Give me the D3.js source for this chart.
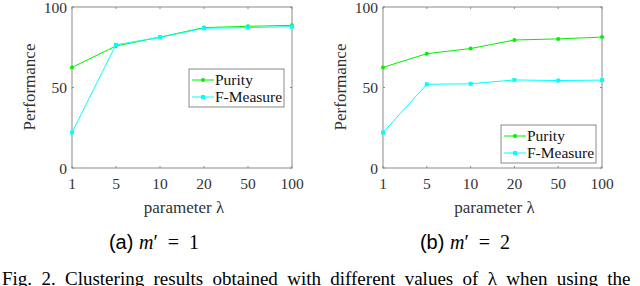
<!DOCTYPE html>
<html>
<head>
<meta charset="utf-8">
<script src="https://cdn.jsdelivr.net/npm/d3@7"></script>
<style>
  body { margin: 0; background: #fff; }
  svg { display: block; }
</style>
</head>
<body>
<div class="graph"></div>
<script>
// chart data
const lambdas = ['1', '5', '10', '20', '50', '100'];
const yTicks = [0, 50, 100];
const purityA = [62.5, 75.8, 81.3, 87.2, 88, 88.6];
const fmeasureA = [22, 76.5, 81.2, 86.8, 87.2, 87.8];
const purityB = [62.5, 71, 74.2, 79.5, 80.2, 81.3];
const fmeasureB = [22, 52, 52.3, 54.7, 54.3, 54.6];
const seriesNames = ['Purity', 'F-Measure'];
const seriesColors = ['#00f000', '#00ffff'];

const serif = "'Liberation Serif', 'Times New Roman', Times, 'DejaVu Serif', serif";
const sans = "'Liberation Sans', Arial, Helvetica, 'DejaVu Sans', sans-serif";

const width = 640;
const height = 286;

const svg = d3.select('.graph')
  .append('svg')
  .attr('width', width)
  .attr('height', height)
  .attr('font-family', serif);

function drawPanel(opts) {
  const x = d3.scalePoint().domain(lambdas).range([opts.left, opts.right]);
  const y = d3.scaleLinear().domain([0, 100]).range([168, 7]);
  const g = svg.append('g');

  // box
  g.append('rect')
    .attr('x', opts.left).attr('y', 7)
    .attr('width', opts.right - opts.left).attr('height', 161)
    .attr('fill', 'none').attr('stroke', '#8a8a8a').attr('stroke-width', 1);

  // x ticks (inward, top and bottom)
  lambdas.forEach(d => {
    g.append('line').attr('x1', x(d)).attr('x2', x(d)).attr('y1', 168).attr('y2', 166)
      .attr('stroke', '#8a8a8a');
    g.append('line').attr('x1', x(d)).attr('x2', x(d)).attr('y1', 7).attr('y2', 9)
      .attr('stroke', '#8a8a8a');
  });
  g.selectAll('.xl').data(lambdas).enter().append('text')
    .attr('x', d => x(d)).attr('y', 189)
    .attr('text-anchor', 'middle')
    .attr('font-size', '15.5px').attr('fill', '#333')
    .text(d => d);

  // y ticks
  yTicks.forEach(v => {
    g.append('line').attr('x1', opts.left).attr('x2', opts.left + 2).attr('y1', y(v)).attr('y2', y(v))
      .attr('stroke', '#8a8a8a');
    g.append('line').attr('x1', opts.right).attr('x2', opts.right - 2).attr('y1', y(v)).attr('y2', y(v))
      .attr('stroke', '#8a8a8a');
  });
  g.selectAll('.yl').data(yTicks).enter().append('text')
    .attr('x', opts.left - 5).attr('y', d => y(d) + 5.5)
    .attr('text-anchor', 'end')
    .attr('font-size', '15.5px').attr('fill', '#333')
    .text(d => d);

  // axis titles
  g.append('text')
    .attr('transform', `translate(${opts.left - 37},87) rotate(-90)`)
    .attr('text-anchor', 'middle')
    .attr('font-size', '17px').attr('fill', '#333')
    .text('Performance');
  g.append('text')
    .attr('x', (opts.left + opts.right) / 2 + 2).attr('y', 213)
    .attr('text-anchor', 'middle')
    .attr('font-size', '17px').attr('fill', '#333')
    .text('parameter λ');

  // lines
  const line = d3.line().x((d, i) => x(lambdas[i])).y(d => y(d));
  [opts.purity, opts.fmeasure].forEach((vals, s) => {
    g.append('path')
      .datum(vals)
      .attr('d', line)
      .attr('fill', 'none')
      .attr('stroke', seriesColors[s])
      .attr('stroke-width', 1);
    if (s === 0) {
      g.selectAll('.m0').data(vals).enter().append('circle')
        .attr('cx', (d, i) => x(lambdas[i])).attr('cy', d => y(d))
        .attr('r', 2).attr('fill', seriesColors[s]);
    } else {
      g.selectAll('.m1').data(vals).enter().append('rect')
        .attr('x', (d, i) => x(lambdas[i]) - 2).attr('y', d => y(d) - 2)
        .attr('width', 4).attr('height', 4).attr('fill', seriesColors[s]);
    }
  });

  // legend
  const lg = g.append('g').attr('transform', `translate(${opts.legX},${opts.legY})`);
  lg.append('rect').attr('width', 95).attr('height', 38)
    .attr('fill', '#fff').attr('stroke', '#8a8a8a');
  seriesNames.forEach((name, i) => {
    const ly = 11 + i * 17;
    lg.append('line').attr('x1', 3).attr('x2', 25).attr('y1', ly).attr('y2', ly)
      .attr('stroke', seriesColors[i]);
    if (i === 0) {
      lg.append('circle').attr('cx', 14).attr('cy', ly).attr('r', 2).attr('fill', seriesColors[i]);
    } else {
      lg.append('rect').attr('x', 12).attr('y', ly - 2).attr('width', 4).attr('height', 4)
        .attr('fill', seriesColors[i]);
    }
    lg.append('text').attr('x', 26).attr('y', ly + 5)
      .attr('font-size', '15.5px').attr('fill', '#111')
      .text(name);
  });

  // sub caption
  const cap = svg.append('text')
    .attr('x', opts.capX).attr('y', 249)
    .attr('text-anchor', 'middle')
    .attr('font-size', '20px').attr('fill', '#000');
  cap.append('tspan').attr('font-family', sans).text(opts.label + ' ');
  cap.append('tspan').attr('font-style', 'italic').text('m');
  cap.append('tspan').text('′\u2002=\u2002' + opts.m);
}

drawPanel({ left: 72, right: 292, purity: purityA, fmeasure: fmeasureA,
  legX: 189, legY: 69, capX: 154, label: '(a)', m: '1' });
drawPanel({ left: 383, right: 602, purity: purityB, fmeasure: fmeasureB,
  legX: 501, legY: 125, capX: 465, label: '(b)', m: '2' });

// figure caption (cut off at bottom), justified like the paper
const fig = svg.append('text')
  .attr('x', 2).attr('y', 285)
  .attr('font-size', '19px').attr('fill', '#000')
  .text('Fig. 2.  Clustering results obtained with different values of λ when using the');
const natural = fig.node().getComputedTextLength();
const gaps = fig.text().split(' ').length - 1;
fig.attr('word-spacing', Math.max(0, (633 - natural) / gaps));
</script>
</body>
</html>
